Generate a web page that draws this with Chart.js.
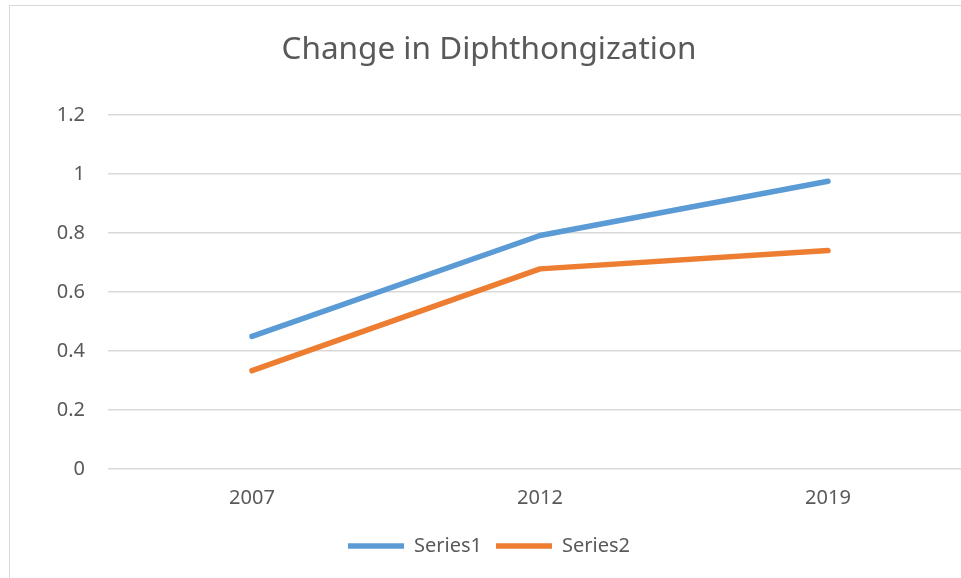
<!DOCTYPE html>
<html>
<head>
<meta charset="utf-8">
<script src="https://cdn.jsdelivr.net/npm/chart.js@4/dist/chart.umd.min.js"></script>
<style>
  html, body { margin: 0; padding: 0; background: #ffffff; overflow: hidden; width: 961px; height: 578px; }
  #frame { position: absolute; left: 9px; top: 5px; width: 1000px; height: 640px; border: 1.5px solid #d9d9d9; box-sizing: border-box; }
  #wrap { position: absolute; left: 0; top: 0; width: 990px; height: 578px; }
</style>
</head>
<body>
<div id="frame"></div>
<div id="wrap"><canvas id="c" width="990" height="578"></canvas></div>
<script>
const chartTitle = "Change in Diphthongization";
const categories = ["2007", "2012", "2019"];
const series1 = [0.449, 0.791, 0.975];
const series2 = [0.333, 0.678, 0.740];
const seriesNames = ["Series1", "Series2"];
const yTicks = [0, 0.2, 0.4, 0.6, 0.8, 1, 1.2];
const yTickLabels = ["0", "0.2", "0.4", "0.6", "0.8", "1", "1.2"];

const textColor = "#595959";
const fontFamily = "'Noto Sans', 'Open Sans', sans-serif";

new Chart(document.getElementById("c"), {
  type: "line",
  data: {
    labels: categories,
    datasets: [
      { label: seriesNames[0], data: series1, borderColor: "#5B9BD5", backgroundColor: "#5B9BD5",
        borderWidth: 5.5, pointRadius: 0, borderCapStyle: "round", borderJoinStyle: "round", tension: 0 },
      { label: seriesNames[1], data: series2, borderColor: "#ED7D31", backgroundColor: "#ED7D31",
        borderWidth: 5.5, pointRadius: 0, borderCapStyle: "round", borderJoinStyle: "round", tension: 0 }
    ]
  },
  options: {
    responsive: false,
    animation: false,
    layout: { padding: { left: 6, right: 18, top: 0, bottom: 12 } },
    plugins: {
      title: {
        display: true, text: chartTitle, color: textColor,
        font: { family: fontFamily, size: 31.5, weight: "normal" },
        padding: { top: 31, bottom: 46 }
      },
      legend: {
        position: "bottom",
        labels: {
          color: textColor,
          font: { family: fontFamily, size: 20 },
          usePointStyle: true,
          pointStyle: "line",
          pointStyleWidth: 56,
          boxWidth: 56,
          padding: 14
        }
      },
      tooltip: { enabled: false }
    },
    scales: {
      x: {
        offset: true,
        grid: { display: false, drawTicks: false },
        border: { display: false },
        ticks: { color: textColor, font: { family: fontFamily, size: 20 }, padding: 17, maxRotation: 0 },
        afterFit: (s) => { s.height = 53; }
      },
      y: {
        min: 0, max: 1.2,
        afterBuildTicks: (s) => { s.ticks = yTicks.map(v => ({ value: v })); },
        grid: { color: "#d9d9d9", lineWidth: 1.5, drawTicks: false },
        border: { display: false },
        ticks: {
          color: textColor, font: { family: fontFamily, size: 20 }, padding: 23,
          callback: (v, i) => yTickLabels[i]
        },
        afterFit: (s) => { s.width = 102; }
      }
    }
  }
});
</script>
</body>
</html>
